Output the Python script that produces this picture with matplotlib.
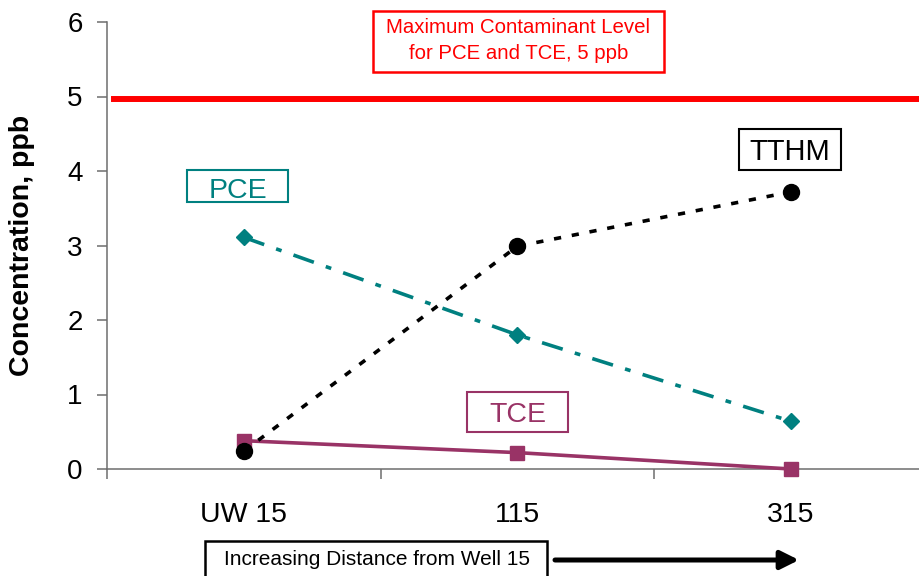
import matplotlib
matplotlib.use('Agg')
import matplotlib.pyplot as plt
from matplotlib.patches import Rectangle, FancyArrowPatch

plt.rcParams['font.family'] = ['Liberation Sans', 'DejaVu Sans']

# --- data ---
categories = ['UW 15', '115', '315']
tthm = [0.24, 2.99, 3.72]
pce = [3.11, 1.80, 0.64]
tce = [0.38, 0.22, 0.0]
mcl = 4.97
yticks = [0, 1, 2, 3, 4, 5, 6]

TEAL = '#008080'
PLUM = '#993366'
RED = '#ff0000'
AXIS = '#6e6e6e'

W, H = 919, 576


def fx(px):
    return px / W


def fy(py):
    return 1 - py / H


def boxed_label(fig, left, top, right, bottom, color, lw=1.5):
    fig.add_artist(Rectangle((fx(left), fy(bottom)), fx(right) - fx(left),
                             fy(top) - fy(bottom), transform=fig.transFigure,
                             fill=False, edgecolor=color, linewidth=lw,
                             clip_on=False))


fig = plt.figure(figsize=(W / 100, H / 100), dpi=100)
ax = fig.add_axes([fx(107), fy(469), fx(919) - fx(107), fy(22) - fy(469)])

x = list(range(len(categories)))

# --- series ---
ax.axhline(mcl, xmin=(114 - 107) / 812, xmax=1, color=RED, lw=4.3)
ax.plot(x, tce, color=PLUM, lw=2.6, marker='s', ms=10.5, mec=PLUM,
        clip_on=False, zorder=3)
ax.plot(x, pce, color=TEAL, lw=2.6, ls=(0, (6, 3.5, 1.6, 3.5)),
        marker='D', ms=8.5, mec=TEAL, clip_on=False, zorder=3)
ax.plot(x, tthm, color='black', lw=2.6, ls=(0, (2, 3)), marker='o',
        ms=11.5, mec='black', clip_on=False, zorder=4)

# --- axes ---
ax.set_xlim(-0.5, 2.468)
ax.set_ylim(0, 6)
ax.set_yticks(yticks)
ax.set_xticks(x)
ax.set_xticklabels(categories, fontsize=20.5)
ax.set_xticks([-0.5, 0.5, 1.5], minor=True)
ax.tick_params(axis='x', which='major', length=0, pad=24)
ax.tick_params(axis='x', which='minor', length=7.5, width=1.1, color=AXIS,
               direction='out')
ax.tick_params(axis='y', length=7.5, width=1.1, color=AXIS, labelsize=20,
               pad=10)
for side in ['top', 'right']:
    ax.spines[side].set_visible(False)
for side in ['left', 'bottom']:
    ax.spines[side].set_color(AXIS)
    ax.spines[side].set_linewidth(1.1)

fig.text(fx(22), fy(245), 'Concentration, ppb', rotation=90, ha='center',
         va='center', fontsize=20.5, fontweight='bold')

# --- boxed labels ---
boxed_label(fig, 373, 11, 664, 72, RED, lw=1.8)
fig.text(fx(518.5), fy(33), 'Maximum Contaminant Level', color=RED,
         fontsize=14.7, ha='center', va='baseline')
fig.text(fx(518.5), fy(59), 'for PCE and TCE, 5 ppb', color=RED,
         fontsize=14.7, ha='center', va='baseline')

boxed_label(fig, 187, 170, 288, 202, TEAL)
fig.text(fx(237.5), fy(197.5), 'PCE', color=TEAL, fontsize=20.5,
         ha='center', va='baseline')

boxed_label(fig, 467, 392, 568, 432, PLUM)
fig.text(fx(517.5), fy(422), 'TCE', color=PLUM, fontsize=20.5,
         ha='center', va='baseline')

boxed_label(fig, 739, 129, 841, 170, 'black')
fig.text(fx(790), fy(160), 'TTHM', color='black', fontsize=21,
         ha='center', va='baseline')

# --- distance note and arrow ---
boxed_label(fig, 205, 541, 547, 600, 'black', lw=1.8)
fig.text(fx(377), fy(565), 'Increasing Distance from Well 15',
         fontsize=15, ha='center', va='baseline')
fig.add_artist(FancyArrowPatch((fx(555), fy(560)), (fx(799), fy(560)),
                               transform=fig.transFigure,
                               arrowstyle='-|>,head_length=11,head_width=5.5',
                               mutation_scale=1, lw=3.6, color='black',
                               shrinkA=0, shrinkB=0))

fig.savefig('out.png', dpi=100)
